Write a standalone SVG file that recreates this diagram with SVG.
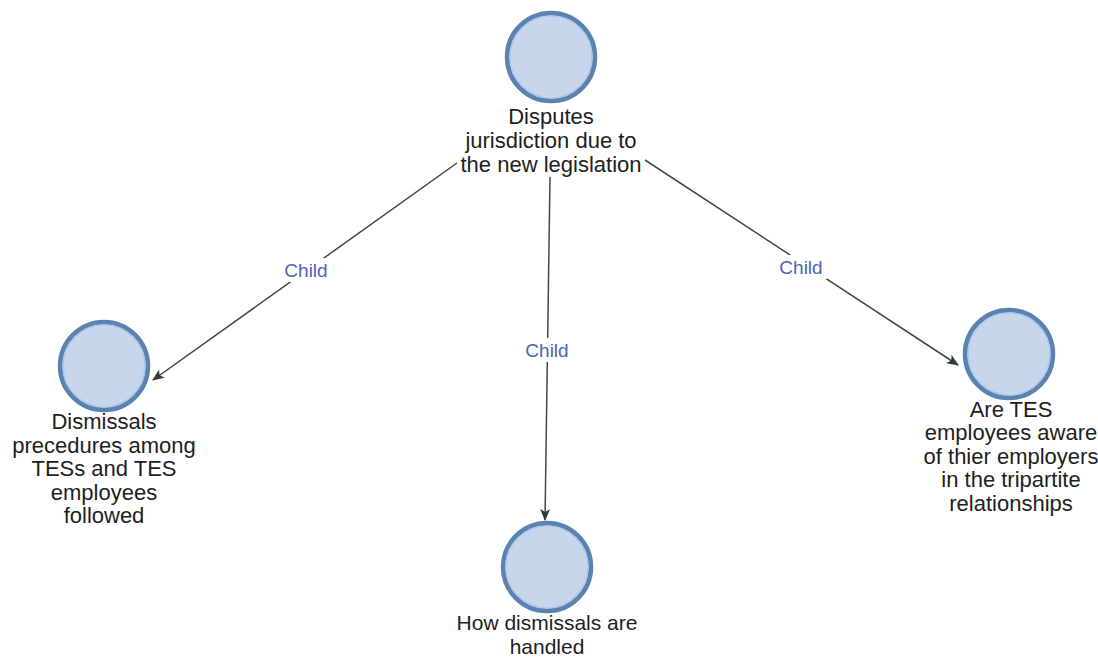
<svg xmlns="http://www.w3.org/2000/svg" width="1098" height="659" viewBox="0 0 1098 659">
  <style>
    .node circle.outer { fill: #c7d6ea; stroke: #5b83b1; stroke-width: 4.5; }
    .node circle.inner { fill: none; stroke: #aac6ea; stroke-width: 1.2; }
    .node text { font-family: "Liberation Sans", Arial, sans-serif; font-size: 22px; fill: #1e1e1e; text-anchor: middle; }
    .node text.sm { font-size: 21px; }
    .edge { stroke: #3b4a4a; stroke-width: 1.5; fill: none; marker-end: url(#arrow); }
    .elabel-bg { fill: #ffffff; }
    .elabel { font-family: "Liberation Sans", Arial, sans-serif; font-size: 19px; fill: #4a66b0; text-anchor: middle; }
  </style>
  <defs>
    <marker id="arrow" viewBox="0 0 12 10" refX="11" refY="5" markerWidth="12" markerHeight="10" markerUnits="userSpaceOnUse" orient="auto">
      <path d="M0,0 L12,5 L0,10 L3,5 Z" fill="#2f3b3b"/>
    </marker>
  </defs>
  <rect width="1098" height="659" fill="#ffffff"/>

  <g id="connectors">
    <line class="edge" x1="457" y1="163" x2="153" y2="380"/>
    <line class="edge" x1="550" y1="177" x2="545" y2="520"/>
    <line class="edge" x1="645" y1="160" x2="958" y2="365"/>
    <rect class="elabel-bg" x="280" y="258" width="52" height="24"/>
    <text class="elabel" x="306" y="277">Child</text>
    <rect class="elabel-bg" x="521" y="338" width="52" height="24"/>
    <text class="elabel" x="547" y="357">Child</text>
    <rect class="elabel-bg" x="775" y="255" width="52" height="24"/>
    <text class="elabel" x="801" y="274">Child</text>
  </g>

  <g id="node-top" class="node">
    <circle class="outer" cx="551" cy="57" r="44"/>
    <circle class="inner" cx="551" cy="57" r="41"/>
    <text x="551" y="124">Disputes</text>
    <text x="551" y="148">jurisdiction due to</text>
    <text x="551" y="172">the new legislation</text>
  </g>

  <g id="node-left" class="node">
    <circle class="outer" cx="104" cy="366" r="44"/>
    <circle class="inner" cx="104" cy="366" r="41"/>
    <text x="104" y="429">Dismissals</text>
    <text x="104" y="453">precedures among</text>
    <text x="104" y="476">TESs and TES</text>
    <text x="104" y="500">employees</text>
    <text x="104" y="523">followed</text>
  </g>

  <g id="node-right" class="node">
    <circle class="outer" cx="1009" cy="354" r="44"/>
    <circle class="inner" cx="1009" cy="354" r="41"/>
    <text x="1011" y="417">Are TES</text>
    <text x="1011" y="440">employees aware</text>
    <text x="1011" y="464">of thier employers</text>
    <text x="1011" y="487">in the tripartite</text>
    <text x="1011" y="511">relationships</text>
  </g>

  <g id="node-bottom" class="node">
    <circle class="outer" cx="547" cy="567" r="44"/>
    <circle class="inner" cx="547" cy="567" r="41"/>
    <text class="sm" x="547" y="630">How dismissals are</text>
    <text class="sm" x="547" y="654">handled</text>
  </g>
</svg>
